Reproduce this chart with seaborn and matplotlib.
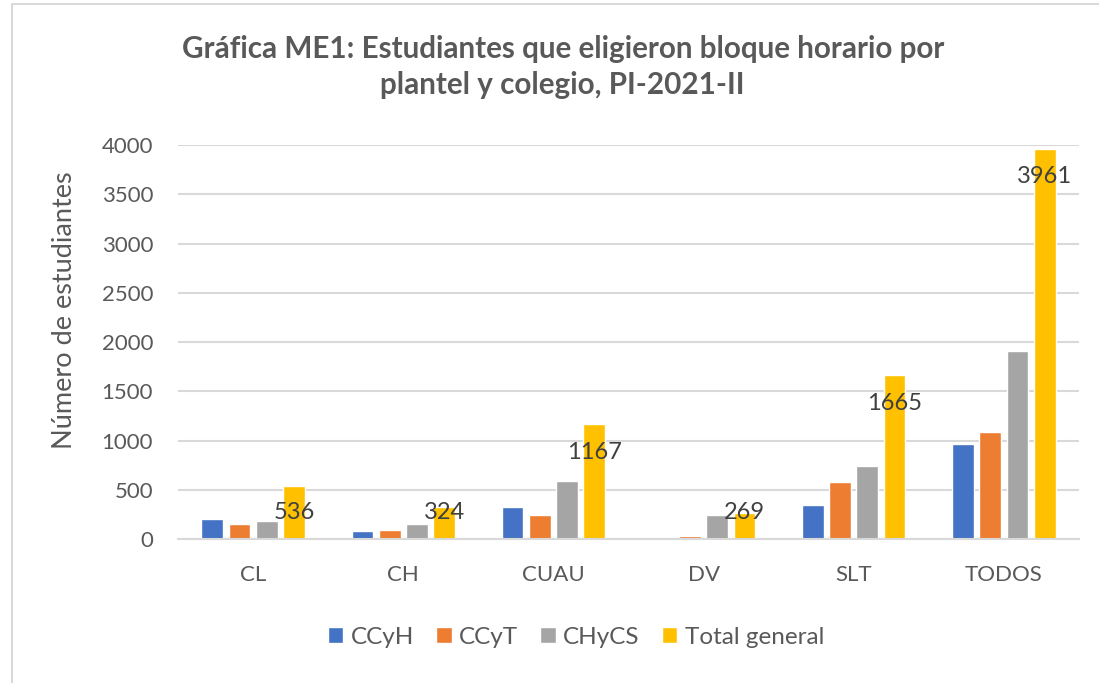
import numpy as np
import pandas as pd
import matplotlib
matplotlib.use("Agg")
import matplotlib.pyplot as plt
import seaborn as sns
from matplotlib.patches import Patch

sns.set_style("white")
plt.rcParams['font.family'] = ['Lato', 'DejaVu Sans']

planteles = ["CL", "CH", "CUAU", "DV", "SLT", "TODOS"]
colegios = ["CCyH", "CCyT", "CHyCS", "Total general"]
ccyh = [205, 85, 330, 0, 344, 964]
ccyt = [148, 88, 247, 26, 581, 1090]
chycs = [183, 151, 590, 243, 740, 1907]
total = [536, 324, 1167, 269, 1665, 3961]
colores = ["#4472C4", "#ED7D31", "#A5A5A5", "#FFC000"]

rows = []
for nombre, serie in zip(colegios, [ccyh, ccyt, chycs, total]):
    for p, v in zip(planteles, serie):
        rows.append({"plantel": p, "colegio": nombre, "n": v})
df = pd.DataFrame(rows)

gris = "#595959"
fig = plt.figure(figsize=(10.99, 6.83), dpi=100)
ax = fig.add_axes([0.162, 0.2108, 0.8198, 0.5769])

sns.barplot(data=df, x="plantel", y="n", hue="colegio", order=planteles,
            hue_order=colegios, palette=colores, width=0.725, gap=0.2,
            saturation=1, ax=ax, legend=False)

ax.set_ylim(0, 4000)
ax.set_xlim(-0.5, 5.5)
ax.set_yticks(np.arange(0, 4001, 500))
ax.yaxis.grid(True, color="#D9D9D9", linewidth=1.5)
ax.set_axisbelow(True)
for s in ["top", "right", "left"]:
    ax.spines[s].set_visible(False)
ax.spines["bottom"].set_color("#D9D9D9")
ax.spines["bottom"].set_linewidth(1.5)
ax.tick_params(axis="both", length=0, labelsize=16, labelcolor=gris)
ax.tick_params(axis="x", pad=19)
ax.tick_params(axis="y", pad=18)
ax.set_xlabel("")
ax.set_ylabel("Número de estudiantes", fontsize=19.5, color=gris)
ax.yaxis.set_label_coords(-0.112, 0.58)

# etiquetas de la serie Total general
for bar, v in zip(ax.containers[3], total):
    y = max(v - 285, 272)
    ax.text(bar.get_x() + bar.get_width() / 2, y, str(v), ha="center",
            va="center", fontsize=17, color="#404040")

fig.text(0.512, 0.902, "Gráfica ME1: Estudiantes que eligieron bloque horario por\nplantel y colegio, PI-2021-II",
         ha="center", va="center", fontsize=21.3, fontweight="bold", color=gris,
         linespacing=1.35)

handles = [Patch(facecolor=c, label=n) for c, n in zip(colores, colegios)]
leg = fig.legend(handles=handles, loc="center", bbox_to_anchor=(0.524, 0.067),
                 ncol=4, frameon=False, fontsize=17.5, handlelength=0.65,
                 handleheight=0.65, handletextpad=0.3, columnspacing=0.9)
for t in leg.get_texts():
    t.set_color(gris)

# marco del gráfico
fig.add_artist(plt.Line2D([12 / 1099, 12 / 1099], [0, 1 - 4 / 683], color="#D9D9D9", linewidth=1.5))
fig.add_artist(plt.Line2D([12 / 1099, 1], [1 - 4 / 683, 1 - 4 / 683], color="#D9D9D9", linewidth=1.5))

fig.savefig("out.png", dpi=100)
